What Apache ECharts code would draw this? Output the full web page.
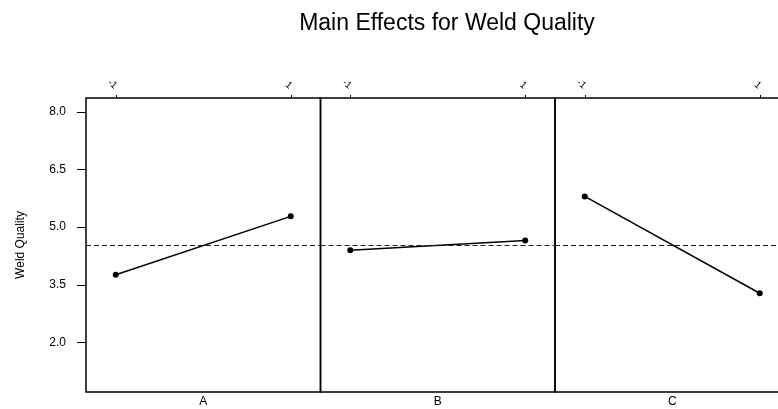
<!DOCTYPE html>
<html>
<head>
<meta charset="utf-8">
<script src="https://cdn.jsdelivr.net/npm/echarts@6/dist/echarts.min.js"></script>
<style>
html,body{margin:0;padding:0;background:#fff;}
#chart{width:778px;height:409px;}
</style>
</head>
<body>
<div id="chart"></div>
<script>
const factors = ['A', 'B', 'C'];
const levels = [-1, 1];
const levelLabels = ['-1', '1'];
const lowMeans = [3.76, 4.40, 5.80];
const highMeans = [5.28, 4.65, 3.28];
const grandMean = 4.52;
const yTicks = [2.0, 3.5, 5.0, 6.5, 8.0];

const chart = echarts.init(document.getElementById('chart'));
const panelLeft = 86, panelW = 234.5, panelTop = 98, panelH = 294;
const grids = [], xAxes = [], yAxes = [], series = [];
factors.forEach((f, i) => {
  grids.push({left: panelLeft + i * panelW, top: panelTop, width: panelW, height: panelH,
    outerBoundsMode: 'none', containLabel: false,
    show: true, borderColor: '#000', borderWidth: 1.5, backgroundColor: 'transparent'});
  xAxes.push({gridIndex: i, type: 'value', min: -1.34, max: 1.34, position: 'bottom',
    name: f, nameLocation: 'middle', nameGap: 4,
    nameTextStyle: {fontFamily: 'Liberation Sans', fontSize: 12, color: '#000'},
    axisLine: {show: false, onZero: false}, axisTick: {show: false}, axisLabel: {show: false}, splitLine: {show: false}});
  xAxes.push({gridIndex: i, type: 'value', min: -1.34, max: 1.34, position: 'top',
    axisLine: {show: false, onZero: false},
    axisTick: {show: true, length: 3, inside: false, customValues: levels, lineStyle: {color: '#000'}},
    axisLabel: {show: true, customValues: levels, rotate: 40, margin: 11, fontSize: 10,
      fontFamily: 'Liberation Sans', color: '#000',
      formatter: v => levelLabels[levels.indexOf(v)]},
    splitLine: {show: false}});
  yAxes.push({gridIndex: i, type: 'value', min: 0.71, max: 8.36, position: 'left',
    name: i === 0 ? 'Weld Quality' : '', nameLocation: 'middle', nameGap: 59,
    nameTextStyle: {fontFamily: 'Liberation Sans', fontSize: 12, color: '#000'},
    axisLine: {show: false, onZero: false},
    axisTick: {show: i === 0, length: 9, customValues: yTicks, lineStyle: {color: '#000'}},
    axisLabel: {show: i === 0, customValues: yTicks, margin: 20, fontSize: 12,
      fontFamily: 'Liberation Sans', color: '#000', formatter: v => v.toFixed(1)},
    splitLine: {show: false}});
  series.push({type: 'line', xAxisIndex: 2 * i, yAxisIndex: i,
    data: [[levels[0], lowMeans[i]], [levels[1], highMeans[i]]],
    symbol: 'circle', symbolSize: 6, color: '#000',
    lineStyle: {color: '#000', width: 1.5}, itemStyle: {color: '#000'},
    animation: false,
    markLine: {silent: true, symbol: 'none', label: {show: false},
      lineStyle: {color: '#222', type: [5, 3], width: 1},
      data: [{yAxis: grandMean}]}});
});

chart.setOption({
  backgroundColor: '#fff',
  animation: false,
  title: {text: 'Main Effects for Weld Quality', left: 442, top: 7, textAlign: 'center',
    textStyle: {fontFamily: 'Liberation Sans', fontSize: 23, fontWeight: 'normal', color: '#000'}},
  grid: grids, xAxis: xAxes, yAxis: yAxes, series: series
});
</script>
</body>
</html>
